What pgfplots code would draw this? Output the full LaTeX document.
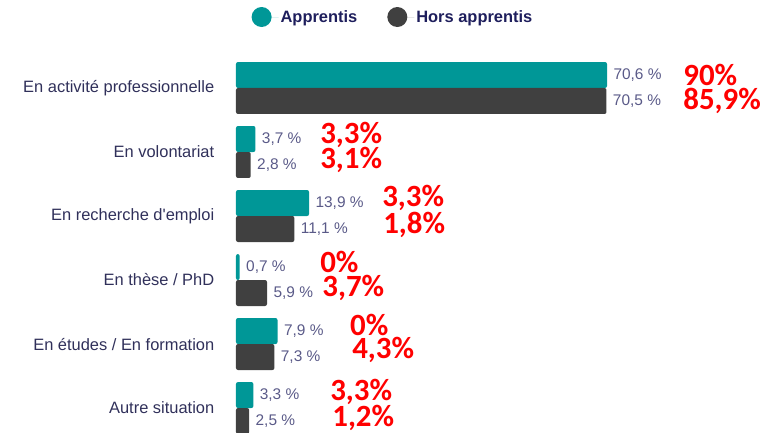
\documentclass[border=0pt]{standalone}
\usepackage{pgfplots}
\pgfplotsset{compat=1.18}
\usepackage{fontspec}
\setmainfont{Liberation Sans}
\newfontfamily\redfont{Carlito}
\definecolor{appr}{HTML}{009797}
\definecolor{hors}{HTML}{404040}
\definecolor{vallab}{HTML}{5A5A88}
\definecolor{legtxt}{HTML}{1E1E5C}
\definecolor{catlab}{HTML}{30305A}
\begin{document}
\begin{tikzpicture}
\begin{axis}[
    scale only axis,
    width=540bp, height=377bp,
    xbar,
    xmin=0, xmax=102.76,
    ymin=-0.39, ymax=5.5,
    bar width=0.406,
    axis line style={draw=none},
    tick style={draw=none},
    xtick=\empty,
    ytick={0,1,2,3,4,5},
    yticklabels={Autre situation, En études / En formation, En thèse / PhD,
                 En recherche d\textquotesingle emploi, En volontariat, En activité professionnelle},
    yticklabel style={font=\fontsize{16.5}{18}\selectfont, text=catlab, xshift=-14bp},
    point meta=x,
    nodes near coords={\pgfmathprintnumber[fixed,fixed zerofill,precision=1,use comma,assume math mode=true]{\pgfplotspointmeta}~\%},
    every node near coord/.append style={anchor=west, font=\fontsize{15.5}{17}\selectfont, text=vallab, xshift=3bp},
    legend style={at={(axis description cs:0.2907,1.1034)}, anchor=center, draw=none, fill=none,
        legend columns=2, font=\bfseries\fontsize{16.5}{18}\selectfont, text=legtxt,
        /tikz/every even column/.append style={column sep=28bp}},
    legend image code/.code={\fill[#1] (10bp,0) circle (10bp); \path (0,0) -- (27bp,0);},
]
\addplot[fill=appr, draw=none, rounded corners=2bp, bar shift=0.203] coordinates {
    (70.6,5) (3.7,4) (13.9,3) (0.7,2) (7.9,1) (3.3,0)
};
\addlegendentry{Apprentis}
\addplot[fill=hors, draw=none, rounded corners=2bp, bar shift=-0.203] coordinates {
    (70.5,5) (2.8,4) (11.1,3) (5.9,2) (7.3,1) (2.5,0)
};
\addlegendentry{Hors apprentis}

% annotations rouges
\begin{scope}[every node/.style={anchor=west, inner sep=0pt, text=red, font=\redfont\bfseries\fontsize{31}{33}\selectfont}]
\node at (axis cs:85.1,5.203) {90\%};
\node at (axis cs:85.1,4.797) {85,9\%};
\node at (axis cs:16.0,4.266) {3,3\%};
\node at (axis cs:16.0,3.875) {3,1\%};
\node at (axis cs:27.8,3.281) {3,3\%};
\node at (axis cs:28.0,2.859) {1,8\%};
\node at (axis cs:16.0,2.281) {0\%};
\node at (axis cs:16.4,1.875) {3,7\%};
\node at (axis cs:21.7,1.297) {0\%};
\node at (axis cs:22.1,0.906) {4,3\%};
\node at (axis cs:17.9,0.25) {3,3\%};
\node at (axis cs:18.3,-0.156) {1,2\%};
\end{scope}
\coordinate (bl) at (axis cs:0,-0.39);
\coordinate (tr) at (axis cs:102.76,5.5);
\end{axis}
\pgfresetboundingbox
\path[use as bounding box] ([xshift=-236bp]bl) rectangle ([yshift=56bp]tr);
\end{tikzpicture}
\end{document}
